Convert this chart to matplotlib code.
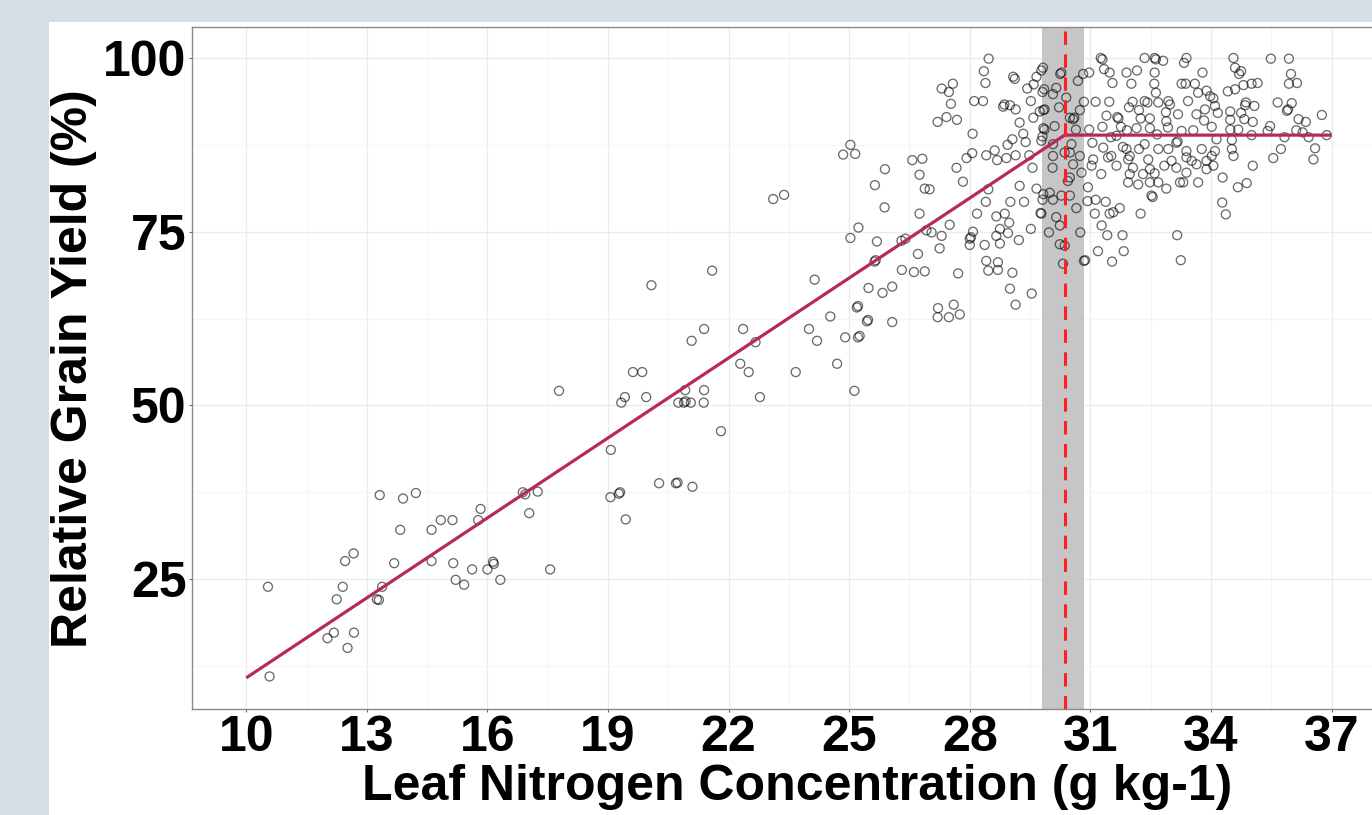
import matplotlib
matplotlib.use("Agg")
import matplotlib.pyplot as plt
from matplotlib.patches import Rectangle

plt.rcParams["font.family"] = ["Liberation Sans", "DejaVu Sans"]
plt.rcParams["font.weight"] = "bold"

# ---------------- data ----------------
x_ticks = [10, 13, 16, 19, 22, 25, 28, 31, 34, 37]
y_ticks = [25, 50, 75, 100]
x_label = "Leaf Nitrogen Concentration (g kg-1)"
y_label = "Relative Grain Yield (%)"

# linear-plateau fit
fit_x = [10, 30.36, 37]
fit_y = [10.8, 88.9, 88.9]
critical_n = 30.36
ci_low, ci_high = 29.79, 30.84

# observations (leaf N, relative yield)
pts_low = [
    (17.78, 52.1), (13.32, 37.1), (13.9, 36.6), (14.22, 37.4), (15.83, 35.1), (15.77, 33.5),
    (16.88, 37.5), (16.94, 37.2), (17.25, 37.6), (17.04, 34.5), (14.84, 33.5), (15.13, 33.5),
    (13.83, 32.1), (14.61, 32.1), (12.67, 28.7), (12.46, 27.6), (13.68, 27.3), (14.61, 27.6),
    (15.15, 27.3), (15.62, 26.4), (16.0, 26.4), (16.14, 27.5), (16.16, 27.2), (16.32, 24.9),
    (15.21, 24.9), (15.42, 24.2), (17.56, 26.4), (10.54, 23.9), (12.4, 23.9), (12.25, 22.1),
    (13.38, 23.9), (13.25, 22.1), (13.3, 22.0), (12.18, 17.3), (12.02, 16.5), (12.68, 17.3),
    (12.52, 15.1), (10.58, 11.0),
]
pts_mid = [
    (23.11, 79.7), (23.38, 80.3), (25.64, 81.7), (25.88, 78.5), (25.23, 75.6), (25.03, 74.1),
    (25.69, 73.6), (26.3, 73.7), (26.4, 74.0), (26.75, 77.6), (26.71, 71.8), (25.63, 70.7),
    (25.66, 70.9), (26.31, 69.5), (26.61, 69.2), (24.14, 68.1), (25.48, 66.9), (25.83, 66.2),
    (26.07, 67.1), (25.19, 64.1), (25.22, 64.3), (24.53, 62.8), (25.44, 62.1), (25.47, 62.3),
    (26.07, 62.0), (24.0, 61.0), (24.2, 59.3), (24.9, 59.8), (25.22, 59.8), (25.26, 60.0),
    (24.7, 56.0), (23.67, 54.8), (25.13, 52.1), (20.08, 67.3), (21.59, 69.4), (21.39, 61.0),
    (21.08, 59.3), (22.36, 61.0), (22.67, 59.1), (22.29, 56.0), (22.5, 54.8), (22.78, 51.2),
    (19.62, 54.8), (19.85, 54.8), (19.42, 51.2), (19.33, 50.4), (19.95, 51.2), (20.92, 52.2),
    (20.75, 50.4), (20.89, 50.4), (20.93, 50.6), (21.06, 50.4), (21.39, 52.2), (21.38, 50.4),
    (21.81, 46.3), (19.07, 43.6), (20.27, 38.8), (20.69, 38.8), (20.73, 38.9), (21.1, 38.3),
    (19.27, 37.3), (19.3, 37.5), (19.06, 36.8), (19.44, 33.6),
    (25.03, 87.5), (24.85, 86.1), (25.15, 86.2),
]
pts_rise = [
    (28.47, 99.9), (28.35, 98.1), (28.39, 96.4), (27.58, 96.3), (27.3, 95.6), (27.48, 95.1),
    (27.53, 93.4), (28.11, 93.8), (28.33, 93.8), (27.42, 91.5), (27.2, 90.8), (27.68, 91.1),
    (28.07, 89.1), (26.57, 85.3), (26.82, 85.5), (25.89, 84.0), (26.75, 83.2), (27.67, 84.2),
    (27.92, 85.6), (28.06, 86.3), (27.83, 82.2), (28.41, 86.0), (28.62, 86.7), (28.68, 85.3),
    (28.91, 85.6), (29.14, 86.0), (28.94, 87.5), (29.06, 88.3), (29.24, 90.7), (29.33, 89.1),
    (29.39, 87.9), (29.08, 97.3), (29.12, 97.0), (28.83, 93.0), (28.86, 93.3), (29.0, 93.2),
    (29.14, 92.6), (29.43, 95.6), (29.52, 93.8), (29.59, 96.2), (29.66, 97.3), (29.78, 98.2),
    (29.81, 95.1), (29.58, 91.4), (29.74, 92.3), (29.83, 92.5), (29.83, 89.9), (29.81, 88.7),
    (29.48, 86.0), (29.56, 84.2), (29.24, 81.6), (29.66, 81.2), (26.88, 81.2), (27.0, 81.1),
    (29.83, 80.4), (28.46, 81.1), (28.4, 79.3), (29.01, 79.3), (29.35, 79.3), (28.18, 77.6),
    (28.66, 77.2), (28.87, 77.6), (29.76, 77.7), (27.5, 76.0), (26.92, 75.2), (27.05, 74.9),
    (27.3, 74.4), (28.98, 76.3), (28.75, 75.4), (28.66, 74.4), (28.95, 74.8), (28.08, 75.0),
    (28.0, 74.0), (28.03, 74.2), (28.0, 73.1), (28.37, 73.1), (28.75, 73.3), (29.22, 73.8),
    (29.52, 75.4), (27.25, 72.6), (28.41, 70.8), (28.7, 70.6), (28.46, 69.4), (28.7, 69.5),
    (29.06, 69.1), (26.88, 69.3), (27.71, 69.0), (29.0, 66.8), (29.54, 66.1), (29.14, 64.5),
    (27.21, 64.0), (27.6, 64.5), (27.2, 62.7), (27.48, 62.7), (27.75, 63.1),
]
pts_plateau_a = [
    (31.26, 100.0), (31.3, 99.8), (32.35, 100.0), (32.6, 100.0), (32.63, 99.8), (32.81, 99.6),
    (33.39, 100.0), (33.33, 99.3), (29.82, 98.6), (30.25, 97.7), (30.82, 97.7), (30.97, 97.9),
    (31.34, 98.4), (31.48, 97.9), (31.9, 97.9), (32.16, 98.2), (32.6, 97.9), (33.79, 97.9),
    (30.69, 96.7), (31.55, 96.4), (32.02, 96.3), (32.59, 96.3), (33.27, 96.3), (33.37, 96.3),
    (33.6, 96.3), (30.15, 95.7), (29.85, 95.5), (30.07, 94.8), (32.63, 95.0), (33.68, 95.0),
    (33.89, 95.3), (31.13, 93.7), (31.47, 93.7), (30.84, 93.7), (32.05, 93.7), (32.35, 93.8),
    (32.42, 93.6), (32.69, 93.6), (32.94, 93.8), (32.98, 93.3), (33.43, 93.8), (30.22, 92.9),
    (29.86, 92.6), (30.74, 92.5), (30.57, 91.2), (30.6, 91.4), (31.4, 91.7), (31.67, 91.5),
    (31.7, 91.3), (31.96, 92.9), (32.21, 92.5), (32.25, 91.3), (32.48, 91.3), (32.88, 92.2),
    (32.89, 90.9), (33.18, 91.9), (33.64, 91.9), (33.83, 91.0), (33.85, 92.6), (29.86, 89.7),
    (30.11, 90.2), (30.64, 89.7), (30.97, 89.7), (31.3, 90.1), (31.76, 90.1), (31.91, 89.6),
    (32.15, 89.9), (32.48, 89.9), (32.93, 90.0), (33.27, 89.5), (33.56, 89.6), (31.51, 88.6),
    (31.65, 88.8), (32.66, 89.0), (33.14, 87.8), (33.17, 88.0), (29.78, 88.1), (30.07, 87.6),
    (30.53, 87.6), (31.05, 87.8), (31.32, 87.1), (31.81, 87.2), (31.9, 86.9), (32.21, 86.9),
    (32.35, 87.6), (32.69, 86.9), (32.94, 86.9), (33.39, 86.6), (33.77, 86.9), (30.07, 85.9),
    (30.49, 86.4), (30.74, 85.9), (31.07, 85.4), (31.44, 85.7), (31.52, 85.9), (31.98, 85.9),
    (31.94, 85.4), (32.44, 85.4), (33.02, 85.2), (33.39, 85.7), (33.52, 85.2), (33.64, 84.7),
    (30.06, 84.2), (30.57, 84.7), (31.03, 84.5), (31.65, 84.5), (32.06, 84.2), (32.48, 84.0),
    (32.84, 84.5), (33.14, 84.2), (30.49, 82.8), (30.78, 83.5), (31.27, 83.3), (31.98, 83.3),
    (32.31, 83.3), (32.6, 83.4), (33.39, 83.5), (33.89, 84.0), (30.94, 81.4), (31.94, 82.1),
    (32.19, 81.8), (32.48, 82.1), (32.69, 82.1), (33.23, 82.1), (33.31, 82.1), (33.68, 82.1),
    (30.28, 97.9), (30.4, 94.3), (30.49, 91.4), (30.36, 86.4), (30.44, 82.3), (30.36, 73.0),
]
pts_plateau_b = [
    (32.89, 81.2), (29.99, 80.6), (30.28, 80.2), (30.49, 80.2), (29.81, 79.6), (30.07, 79.6),
    (30.65, 78.4), (30.93, 79.4), (31.13, 79.6), (31.38, 79.3), (32.52, 80.2), (32.55, 80.0),
    (31.73, 78.4), (31.48, 77.6), (31.57, 77.8), (31.11, 77.6), (32.25, 77.6), (29.78, 77.6),
    (30.15, 77.1), (30.24, 75.9), (31.28, 75.9), (29.97, 74.9), (30.75, 74.9), (31.42, 74.5),
    (31.8, 74.5), (33.16, 74.5), (30.24, 73.2), (31.19, 72.2), (31.83, 72.2), (30.32, 70.4),
    (30.84, 70.8), (30.87, 70.9), (31.54, 70.7), (33.25, 70.9),
]
pts_plateau_c = [
    (34.56, 100.0), (35.49, 99.9), (35.94, 99.9), (34.6, 98.6), (34.7, 97.7), (34.75, 98.1),
    (35.99, 97.7), (35.94, 96.3), (36.14, 96.4), (34.42, 95.2), (34.6, 95.5), (34.81, 96.1),
    (35.01, 96.3), (35.16, 96.4), (34.87, 93.6), (34.85, 93.2), (35.08, 93.1), (35.66, 93.6),
    (36.01, 93.5), (35.89, 92.4), (35.92, 92.6), (33.98, 94.5), (34.06, 94.2), (34.1, 93.1),
    (34.17, 92.1), (34.48, 92.3), (34.48, 91.1), (34.83, 91.2), (34.75, 92.1), (35.04, 90.8),
    (34.02, 90.1), (36.18, 91.2), (36.36, 90.8), (36.76, 91.8), (35.47, 90.2), (34.48, 89.7),
    (34.68, 89.7), (35.01, 88.9), (35.41, 89.5), (36.12, 89.6), (36.28, 89.3), (36.43, 88.6),
    (35.83, 88.6), (36.88, 88.9), (34.14, 88.3), (34.52, 88.2), (34.52, 86.9), (34.56, 85.9),
    (34.1, 86.6), (34.02, 85.9), (33.89, 85.2), (35.74, 86.9), (35.55, 85.6), (36.59, 87.0),
    (36.55, 85.4), (35.04, 84.5), (34.06, 84.5), (34.29, 82.8), (34.67, 81.4), (34.89, 82.0),
    (34.28, 79.2), (34.37, 77.5),
]

all_pts = pts_low + pts_mid + pts_rise + pts_plateau_a + pts_plateau_b + pts_plateau_c
leaf_n = [p[0] for p in all_pts]
rel_yield = [p[1] for p in all_pts]

# ---------------- figure ----------------
W, H = 1372, 815
fig = plt.figure(figsize=(W / 100, H / 100), dpi=100)
fig.patch.set_facecolor("#d6dde6")
fig.add_artist(Rectangle((49 / W, 0), 1 - 49 / W, (H - 22) / H,
                         transform=fig.transFigure, facecolor="white",
                         edgecolor="none", zorder=-1))

ax = fig.add_axes([192 / W, 1 - 709.3 / H, 1193.8 / W, 682.3 / H])
ax.set_facecolor("white")

ax.set_xlim(8.65, 38.35)
ax.set_ylim(6.27, 104.46)
ax.set_xticks(x_ticks)
ax.set_yticks(y_ticks)
ax.set_xticks([t + 1.5 for t in x_ticks[:-1]], minor=True)
ax.set_yticks([12.5, 37.5, 62.5, 87.5], minor=True)
ax.grid(which="major", color="#ebebeb", lw=1.0, zorder=0)
ax.grid(which="minor", color="#f5f5f5", lw=0.8, zorder=0)
ax.set_axisbelow(True)

for s in ax.spines.values():
    s.set_color("#8a8a8a")
    s.set_linewidth(1.0)

ax.tick_params(which="major", length=2.5, width=0.8, color="#666666",
               labelsize=36, pad=1.5)
ax.tick_params(which="minor", length=0)
for lab in ax.get_xticklabels() + ax.get_yticklabels():
    lab.set_fontweight("bold")

ax.axvspan(ci_low, ci_high, color="#c6c6c6", lw=0, zorder=1)
ax.scatter(leaf_n, rel_yield, s=42, facecolors="none", edgecolors="black",
           linewidths=0.95, alpha=0.58, zorder=3)
ax.plot(fit_x, fit_y, color="#b8285c", lw=2.3, zorder=4, solid_capstyle="butt")
ax.axvline(critical_n, color="#ff1f1f", lw=2.2, ls=(0, (4.4, 3.1)), zorder=5)

fig.text(797 / W, 1 - 800 / H, x_label, ha="center", va="baseline",
         fontsize=36, fontweight="bold")
fig.text(74 / W, 1 - 369 / H, y_label, ha="center", va="center",
         rotation=90, fontsize=36, fontweight="bold")

fig.savefig("out.png", dpi=100, facecolor=fig.get_facecolor())
